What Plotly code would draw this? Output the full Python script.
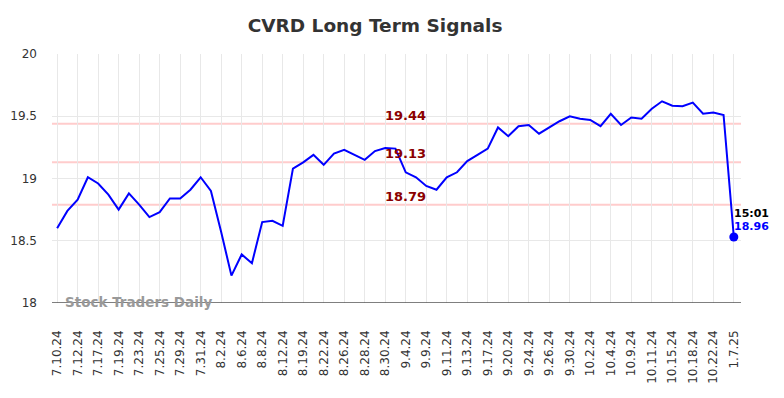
import plotly.graph_objects as go

tick_labels = ["7.10.24", "7.12.24", "7.17.24", "7.19.24", "7.23.24", "7.25.24", "7.29.24", "7.31.24",
               "8.2.24", "8.6.24", "8.8.24", "8.12.24", "8.19.24", "8.22.24", "8.26.24", "8.28.24",
               "8.30.24", "9.4.24", "9.9.24", "9.11.24", "9.13.24", "9.17.24", "9.20.24", "9.24.24",
               "9.26.24", "9.30.24", "10.2.24", "10.4.24", "10.9.24", "10.11.24", "10.15.24",
               "10.18.24", "10.22.24", "1.7.25"]

prices = [18.60, 18.74, 18.83, 19.01, 18.96, 18.87, 18.75, 18.88, 18.79, 18.69,
          18.73, 18.84, 18.84, 18.91, 19.01, 18.90, 18.57, 18.22, 18.39, 18.32,
          18.65, 18.66, 18.62, 19.08, 19.13, 19.19, 19.11, 19.20, 19.23, 19.19,
          19.15, 19.22, 19.245, 19.24, 19.05, 19.01, 18.94, 18.91, 19.01, 19.05,
          19.14, 19.19, 19.24, 19.41, 19.34, 19.42, 19.43, 19.36, 19.41, 19.46,
          19.50, 19.48, 19.47, 19.42, 19.52, 19.43, 19.49, 19.48, 19.56, 19.62,
          19.585, 19.58, 19.61, 19.52, 19.53, 19.51, 18.53]

signal_levels = [19.44, 19.13, 18.79]
last_time = "15:01"
last_label = "18.96"

x_idx = list(range(len(prices)))
tick_vals = x_idx[::2]

fig = go.Figure()
fig.add_trace(go.Scatter(x=x_idx, y=prices, mode="lines",
                         line=dict(color="#0000ff", width=2), hoverinfo="skip"))
fig.add_trace(go.Scatter(x=[x_idx[-1]], y=[prices[-1]], mode="markers",
                         marker=dict(color="#0000ff", size=9), hoverinfo="skip"))

for lv in signal_levels:
    fig.add_shape(type="line", xref="paper", x0=0, x1=1, yref="y", y0=lv, y1=lv,
                  line=dict(color="#ffcccc", width=2), layer="below")
    fig.add_annotation(x=34, y=lv, xref="x", yref="y", text=f"<b>{lv:.2f}</b>",
                       showarrow=False, yanchor="bottom", xanchor="center", yshift=-1,
                       font=dict(family="DejaVu Sans", size=13, color="#8b0000"))

fig.add_annotation(x=x_idx[-1], y=prices[-1], xref="x", yref="y", text=f"<b>{last_time}</b>",
                   showarrow=False, xanchor="left", yanchor="middle", xshift=-2, yshift=24,
                   font=dict(family="DejaVu Sans", size=11, color="#000000"))
fig.add_annotation(x=x_idx[-1], y=prices[-1], xref="x", yref="y", text=f"<b>{last_label}</b>",
                   showarrow=False, xanchor="left", yanchor="middle", xshift=-2, yshift=11,
                   font=dict(family="DejaVu Sans", size=11, color="#0000ff"))

fig.add_annotation(x=7.9, y=18.0, xref="x", yref="y", text="<b>Stock Traders Daily</b>",
                   showarrow=False, xanchor="center", yanchor="middle", yshift=1,
                   font=dict(family="DejaVu Sans", size=13.5, color="#999999"))

fig.update_layout(
    width=776, height=390,
    margin=dict(l=44, r=43, t=46, b=95, autoexpand=False),
    paper_bgcolor="white", plot_bgcolor="white",
    showlegend=False,
    title=dict(text="<b>CVRD Long Term Signals</b>", x=0.473, xanchor="center",
               y=0.954, yanchor="middle",
               font=dict(family="DejaVu Sans", size=18.5, color="#333333")),
    font=dict(family="DejaVu Sans", color="#333333"),
    xaxis=dict(range=[-0.5, 66.7], tickmode="array", tickvals=tick_vals, ticktext=tick_labels,
               tickangle=-90, showgrid=True, gridcolor="#e8e8e8", gridwidth=1,
               zeroline=False, showline=False, ticks="", ticklabelstandoff=24, automargin=False,
               tickfont=dict(family="DejaVu Sans", size=12, color="#333333")),
    yaxis=dict(range=[18, 20], tickvals=[18, 18.5, 19, 19.5, 20],
               ticktext=["18", "18.5", "19", "19.5", "20"],
               showgrid=True, gridcolor="#e8e8e8", gridwidth=1, zeroline=False,
               showline=False, ticks="", ticklabelstandoff=14, automargin=False,
               tickfont=dict(family="DejaVu Sans", size=12, color="#333333")),
)
fig.add_shape(type="line", xref="paper", x0=0, x1=1, yref="y", y0=18, y1=18,
              line=dict(color="#555555", width=1.5))

fig.write_html("out.html")
